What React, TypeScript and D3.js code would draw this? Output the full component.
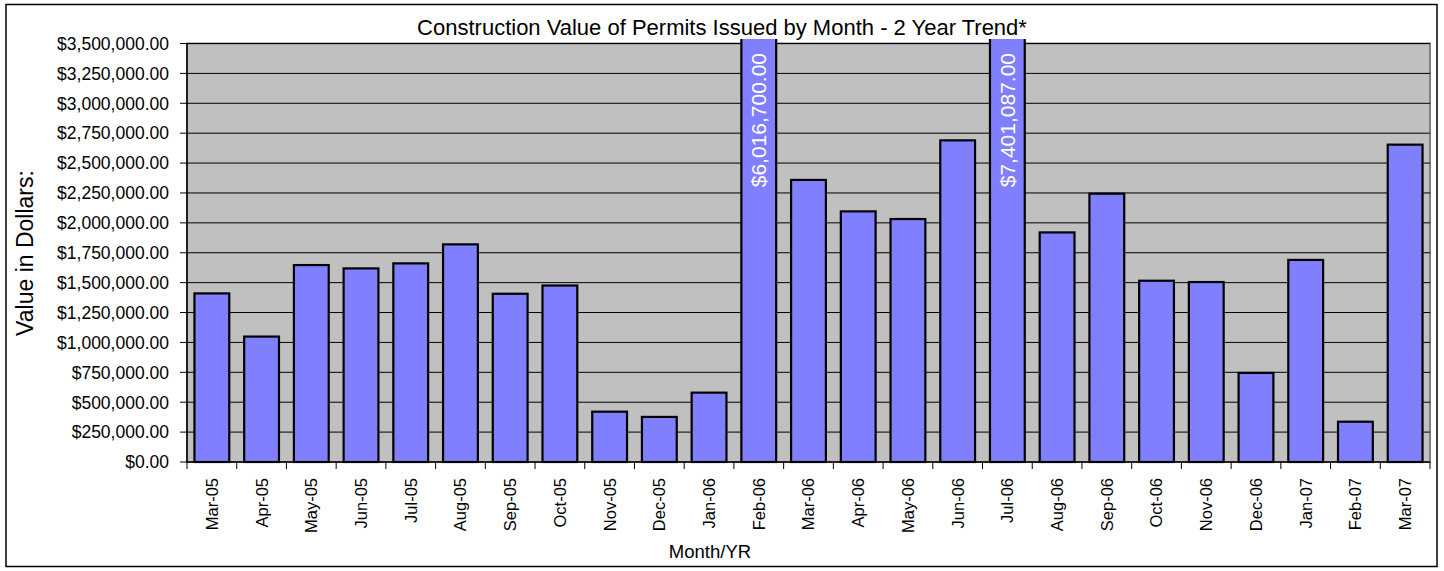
import React from "react";
import { scaleBand, scaleLinear, range, format } from "d3";

const months = [
  "Mar-05", "Apr-05", "May-05", "Jun-05", "Jul-05", "Aug-05", "Sep-05", "Oct-05",
  "Nov-05", "Dec-05", "Jan-06", "Feb-06", "Mar-06", "Apr-06", "May-06", "Jun-06",
  "Jul-06", "Aug-06", "Sep-06", "Oct-06", "Nov-06", "Dec-06", "Jan-07", "Feb-07", "Mar-07",
];

const values = [
  1410000, 1049000, 1647000, 1619000, 1661000, 1820000, 1407000, 1476000,
  421000, 377000, 580000, 6016700, 2359000, 2096000, 2032000, 2690000,
  7401087, 1920000, 2244000, 1516000, 1505000, 745000, 1690000, 337000, 2654000,
];

const yTicks = range(0, 3500001, 250000);

const W = 1444;
const H = 571;
const plot = { left: 187, right: 1430, top: 43.5, bottom: 462 };
const font = "'Liberation Sans', Arial, sans-serif";

export default function App() {
  const x = scaleBand<string>()
    .domain(months)
    .range([plot.left, plot.right])
    .paddingInner(0.3)
    .paddingOuter(0.15);
  const y = scaleLinear().domain([0, 3500000]).range([plot.bottom, plot.top]);
  const step = x.step();
  const money = format("$,.2f");

  return (
    <svg width={W} height={H} style={{ position: "absolute", left: 0, top: 0 }} fontFamily={font}>
      <rect x={0} y={0} width={W} height={H} fill="#fff" />
      <rect x={6} y={4.5} width={1431} height={562} fill="#fff" stroke="#000" strokeWidth={1.5} />

      <defs>
        <clipPath id="barclip">
          <rect x={plot.left - 5} y={39} width={plot.right - plot.left + 10} height={plot.bottom - 39 + 5} />
        </clipPath>
      </defs>

      {/* plot area */}
      <rect
        x={plot.left}
        y={plot.top}
        width={plot.right - plot.left}
        height={plot.bottom - plot.top}
        fill="#C0C0C0"
        stroke="#808080"
        strokeWidth={2}
      />
      {yTicks.slice(1).map((t) => (
        <line key={t} x1={plot.left} x2={plot.right} y1={y(t)} y2={y(t)} stroke="#000" strokeWidth={1} />
      ))}

      {/* bars */}
      <g clipPath="url(#barclip)">
        {months.map((m, i) => {
          const top = Math.max(y(values[i]), 30);
          return (
            <rect
              key={m}
              x={x(m)}
              y={top}
              width={x.bandwidth()}
              height={plot.bottom - top}
              fill="#8080FF"
              stroke="#000"
              strokeWidth={2.2}
            />
          );
        })}
      </g>

      {/* labels for bars off the scale */}
      {months.map((m, i) =>
        values[i] > 3500000 ? (
          <text
            key={m}
            transform={`translate(${(x(m) as number) + x.bandwidth() / 2}, 53) rotate(-90)`}
            textAnchor="end"
            dy="0.36em"
            fontSize={21}
            fill="#fff"
          >
            {money(values[i])}
          </text>
        ) : null
      )}

      {/* y axis */}
      <line x1={plot.left} x2={plot.left} y1={plot.top} y2={plot.bottom} stroke="#000" strokeWidth={1.5} />
      {yTicks.map((t) => (
        <g key={t}>
          <line x1={plot.left - 7} x2={plot.left} y1={y(t)} y2={y(t)} stroke="#000" strokeWidth={1} />
          <text x={plot.left - 18} y={y(t)} dy="0.36em" textAnchor="end" fontSize={17.5} fill="#000">
            {money(t)}
          </text>
        </g>
      ))}

      {/* x axis */}
      <line x1={plot.left} x2={plot.right} y1={plot.bottom} y2={plot.bottom} stroke="#000" strokeWidth={1.5} />
      {range(months.length + 1).map((i) => {
        const xx = plot.left + i * step;
        return <line key={i} x1={xx} x2={xx} y1={plot.bottom} y2={plot.bottom + 7} stroke="#000" strokeWidth={1} />;
      })}
      {months.map((m) => (
        <text
          key={m}
          transform={`translate(${(x(m) as number) + x.bandwidth() / 2}, 478) rotate(-90)`}
          textAnchor="end"
          dy="0.36em"
          fontSize={16.5}
          fill="#000"
        >
          {m}
        </text>
      ))}

      {/* title */}
      <rect x={405} y={8} width={635} height={31} fill="#fff" />
      <text x={722} y={35} textAnchor="middle" fontSize={22} fill="#000">
        Construction Value of Permits Issued by Month - 2 Year Trend*
      </text>

      <text transform="translate(25, 253) rotate(-90)" textAnchor="middle" dy="0.36em" fontSize={23} fill="#000">
        Value in Dollars:
      </text>
      <text x={710} y={558} textAnchor="middle" fontSize={18.5} fill="#000">
        Month/YR
      </text>
    </svg>
  );
}
